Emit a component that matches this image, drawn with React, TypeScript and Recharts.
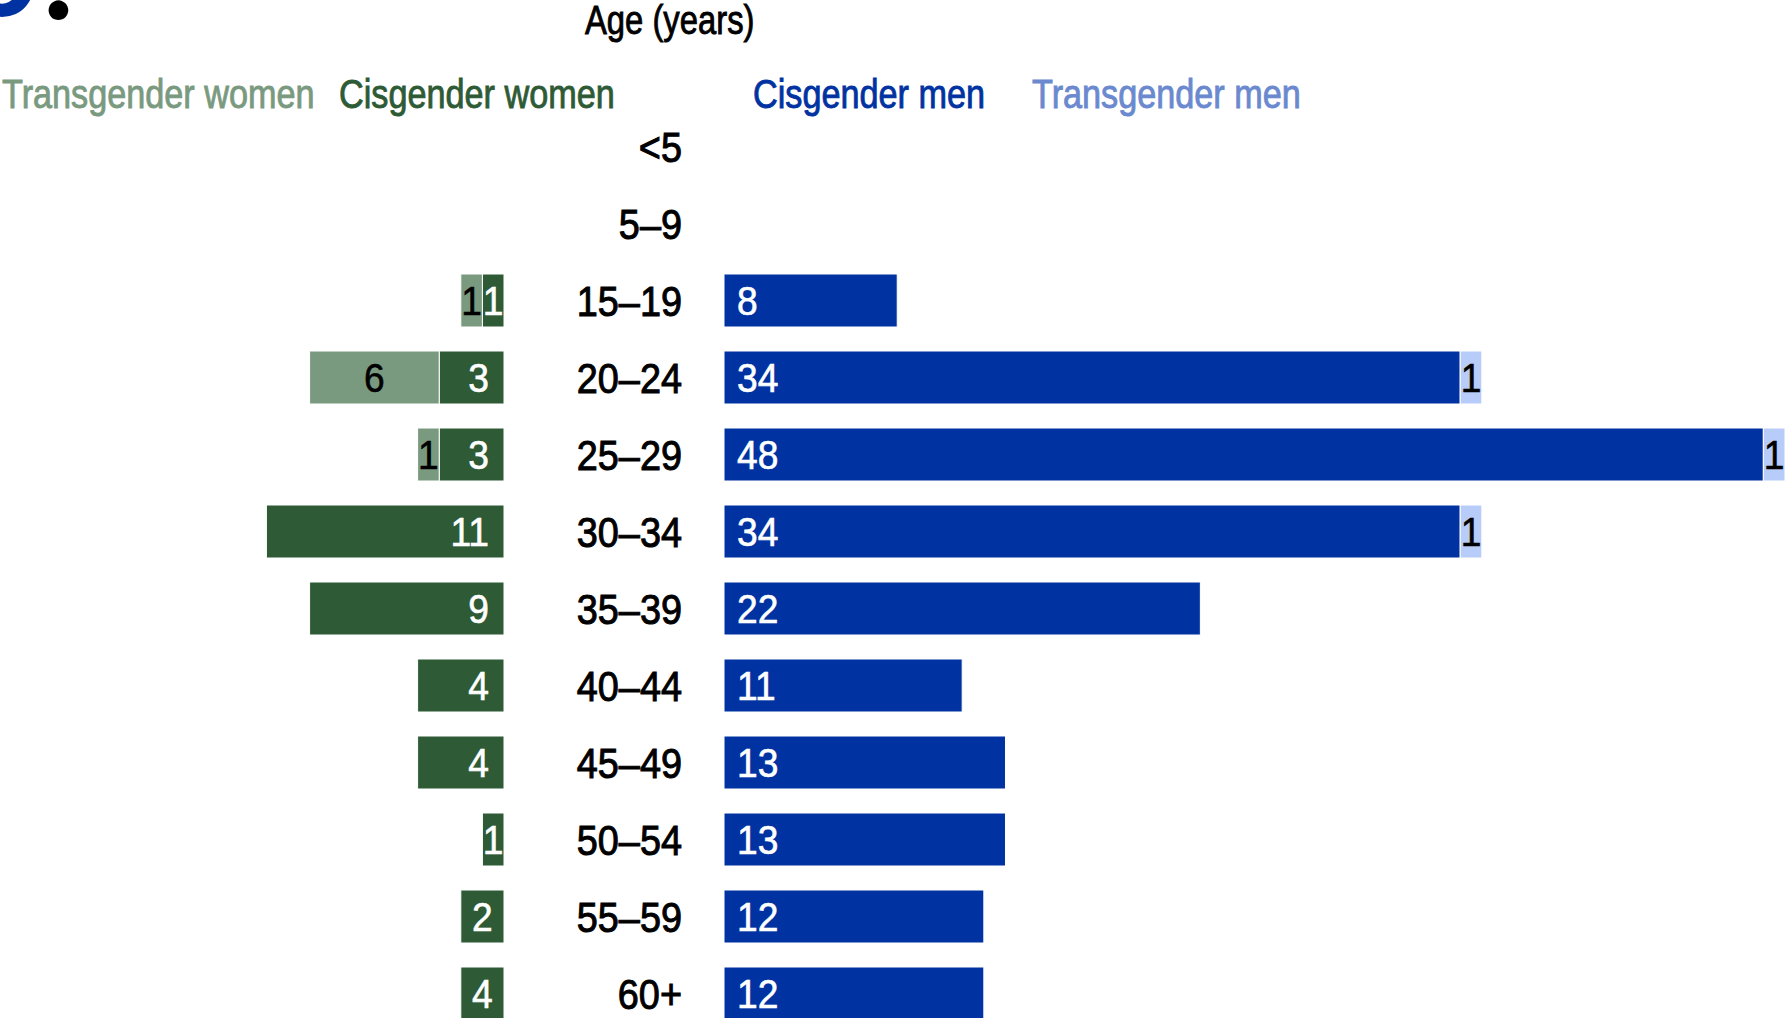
import React from 'react';
import { BarChart, Bar, XAxis, YAxis, LabelList } from 'recharts';

const ageGroups = ['<5', '5–9', '15–19', '20–24', '25–29', '30–34', '35–39', '40–44', '45–49', '50–54', '55–59', '60+'];
const transgenderWomen = [0, 0, 1, 6, 1, 0, 0, 0, 0, 0, 0, 0];
const cisgenderWomen = [0, 0, 1, 3, 3, 11, 9, 4, 4, 1, 2, 2];
const cisgenderWomenLabels = ['', '', '1', '3', '3', '11', '9', '4', '4', '1', '2', '4'];
const cisgenderMen = [0, 0, 8, 34, 48, 34, 22, 11, 13, 13, 12, 12];
const transgenderMen = [0, 0, 0, 1, 1, 1, 0, 0, 0, 0, 0, 0];

const seriesNames = ['Transgender women', 'Cisgender women', 'Cisgender men', 'Transgender men'];
const axisTitle = 'Age (years)';

const FONT = '"Liberation Sans", Arial, sans-serif';
const C_TW = '#7A9A7F';
const C_CW = '#2E5B36';
const C_CM = '#0033A1';
const C_TM = '#B8CCF9';
const C_TM_TEXT = '#6B89CF';

const data = ageGroups.map((age, i) => ({
  age,
  tw: transgenderWomen[i],
  cw: cisgenderWomen[i],
  cwLabel: cisgenderWomenLabels[i],
  cm: cisgenderMen[i],
  tm: transgenderMen[i],
}));

type CTProps = {
  x: number;
  y: number;
  sx?: number;
  anchor?: 'start' | 'middle' | 'end';
  size: number;
  fill: string;
  dy?: string;
  heavy?: number;
  children?: React.ReactNode;
};

const CText = ({ x, y, sx = 0.835, anchor = 'start', size, fill, dy, heavy = 0.9, children }: CTProps) => (
  <text
    transform={`translate(${x},${y}) scale(${sx},1)`}
    x={0}
    y={0}
    dy={dy}
    textAnchor={anchor}
    fontSize={size}
    fill={fill}
    stroke={fill}
    strokeWidth={heavy}
    fontFamily={FONT}
  >
    {children}
  </text>
);

const makeLabel = (color: string, mode: 'center' | 'end' | 'start') => (props: any) => {
  const vb = props.viewBox ?? props;
  const value = props.value;
  if (!value) return null;
  let x = Number(vb.x);
  let width = Number(vb.width);
  const y = Number(vb.y);
  const height = Number(vb.height);
  if (width < 0) {
    x = x + width;
    width = -width;
  }
  const cy = y + height / 2;
  let tx: number;
  let anchor: 'middle' | 'end' | 'start';
  if (mode === 'center' || width < 50) {
    tx = x + width / 2;
    anchor = 'middle';
  } else if (mode === 'end') {
    tx = x + width - 15;
    anchor = 'end';
  } else {
    tx = x + 13;
    anchor = 'start';
  }
  return (
    <CText x={tx} y={cy} dy="0.36em" anchor={anchor} fill={color} size={40} sx={0.93} heavy={0.6}>
      {value}
    </CText>
  );
};

const AgeTick = (props: any) => {
  const { x, y, payload } = props;
  return (
    <CText x={x} y={y} dy="0.36em" anchor="end" fill="#000" size={43} sx={0.88} heavy={1}>
      {payload.value}
    </CText>
  );
};

export default function App() {
  return (
    <div
      style={{
        position: 'fixed',
        top: 0,
        left: 0,
        width: 1785,
        height: 1018,
        overflow: 'hidden',
        background: '#fff',
      }}
    >
      <div style={{ position: 'absolute', left: 0, top: 0 }}>
        <BarChart
          layout="vertical"
          width={504}
          height={1040}
          data={data}
          margin={{ top: 108, right: 0, bottom: 8, left: 72 }}
          barSize={53}
        >
          <XAxis type="number" domain={[0, 20]} allowDataOverflow reversed hide />
          <YAxis type="category" dataKey="age" hide />
          <Bar dataKey="cw" stackId="w" fill={C_CW} stroke="#fff" strokeWidth={1} isAnimationActive={false}>
            <LabelList dataKey="cwLabel" content={makeLabel('#fff', 'end')} />
          </Bar>
          <Bar dataKey="tw" stackId="w" fill={C_TW} stroke="#fff" strokeWidth={1} isAnimationActive={false}>
            <LabelList dataKey="tw" content={makeLabel('#000', 'center')} />
          </Bar>
        </BarChart>
      </div>
      <div style={{ position: 'absolute', left: 524, top: 0 }}>
        <BarChart
          layout="vertical"
          width={1261}
          height={1040}
          data={data}
          margin={{ top: 108, right: 0, bottom: 8, left: 0 }}
          barSize={53}
        >
          <XAxis type="number" domain={[0, 49]} allowDataOverflow hide />
          <YAxis
            type="category"
            dataKey="age"
            width={200}
            axisLine={false}
            tickLine={false}
            tickSize={0}
            tickMargin={42}
            interval={0}
            tick={<AgeTick />}
          />
          <Bar dataKey="cm" stackId="m" fill={C_CM} stroke="#fff" strokeWidth={1} isAnimationActive={false}>
            <LabelList dataKey="cm" content={makeLabel('#fff', 'start')} />
          </Bar>
          <Bar dataKey="tm" stackId="m" fill={C_TM} stroke="#fff" strokeWidth={1} isAnimationActive={false}>
            <LabelList dataKey="tm" content={makeLabel('#000', 'center')} />
          </Bar>
        </BarChart>
      </div>
      <svg
        width={1785}
        height={1018}
        style={{ position: 'absolute', left: 0, top: 0, pointerEvents: 'none' }}
      >
        <text x={40} y={16} textAnchor="end" fontSize={130} fontWeight="bold" fontFamily="Lato, sans-serif" fill={C_CM}>
          0
        </text>
        <text x={58.5} y={19} textAnchor="middle" fontSize={130} fontWeight="bold" fontFamily="Lato, sans-serif" fill="#000">
          .
        </text>
        <CText x={585} y={34} size={40} fill="#000" sx={0.82}>
          {axisTitle}
        </CText>
        <CText x={2} y={107.7} size={41} fill={C_TW}>
          {seriesNames[0]}
        </CText>
        <CText x={339} y={107.7} size={41} fill={C_CW}>
          {seriesNames[1]}
        </CText>
        <CText x={753} y={107.7} size={41} fill={C_CM}>
          {seriesNames[2]}
        </CText>
        <CText x={1032} y={107.7} size={41} fill={C_TM_TEXT}>
          {seriesNames[3]}
        </CText>
      </svg>
    </div>
  );
}
